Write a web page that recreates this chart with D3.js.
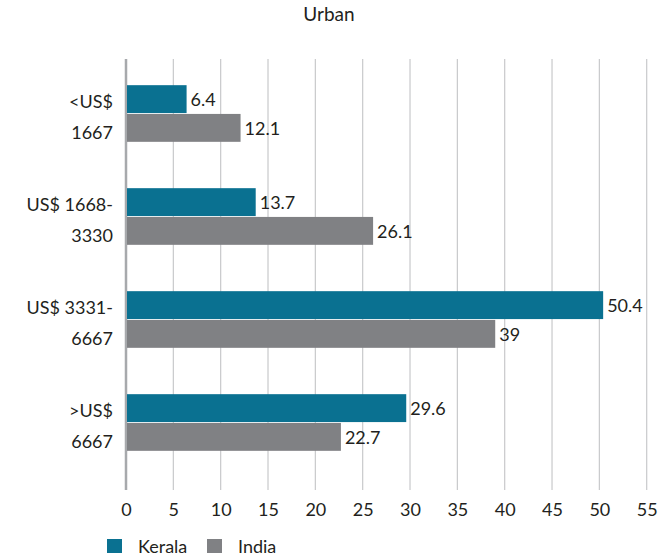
<!DOCTYPE html>
<html><head><meta charset="utf-8">
<script src="https://cdn.jsdelivr.net/npm/d3@7"></script>
<style>body{margin:0;background:#fff}svg{display:block}text{font-family:Lato,"Open Sans",sans-serif;fill:#231f20}</style>
</head><body>
<script>
const categories = [["<US$","1667"],["US$ 1668-","3330"],["US$ 3331-","6667"],[">US$","6667"]];
const seriesNames = ["Kerala","India"];
const kerala = [6.4, 13.7, 50.4, 29.6];
const india = [12.1, 26.1, 39, 22.7];
const valueLabels = [["6.4","12.1"],["13.7","26.1"],["50.4","39"],["29.6","22.7"]];
const ticks = [0,5,10,15,20,25,30,35,40,45,50,55];
const colors = ["#0a7191","#808184"];
const title = "Urban";

const W=659,H=558;
const FS=18;
const svg=d3.select("body").append("svg").attr("width",W).attr("height",H);
const x=d3.scaleLinear().domain([0,55]).range([126,646.7]);
const y=d3.scaleBand().domain(d3.range(categories.length)).range([62,474]).paddingInner(0.45).paddingOuter(0.225);
const sub=d3.scaleBand().domain([0,1]).range([0,y.bandwidth()]).paddingInner(0.03);

svg.append("text").attr("x",329).attr("y",21).attr("text-anchor","middle").attr("font-size",19).text(title);

// gridlines
svg.append("g").selectAll("line").data(ticks).join("line")
 .attr("x1",d=>x(d)).attr("x2",d=>x(d)).attr("y1",59).attr("y2",490)
 .attr("stroke",d=>d===0?"#a7a9ac":"#c8c9cb").attr("stroke-width",d=>d===0?2.5:1.2);

// axis
const ax=svg.append("g").attr("transform","translate(0,490)")
 .call(d3.axisBottom(x).tickValues(ticks).tickSize(0).tickPadding(13));
ax.select(".domain").remove();
ax.selectAll("text").attr("font-size",FS).style("font-family","Lato,'Open Sans',sans-serif").attr("fill","#231f20");

const data=categories.map((c,i)=>({i,vals:[kerala[i],india[i]]}));
const g=svg.append("g").selectAll("g").data(data).join("g").attr("transform",d=>`translate(0,${y(d.i)})`);
g.selectAll("rect").data(d=>d.vals.map((v,s)=>({v,s}))).join("rect")
 .attr("x",x(0)+1).attr("y",d=>sub(d.s)).attr("height",sub.bandwidth())
 .attr("width",d=>x(d.v)-x(0)-1).attr("fill",d=>colors[d.s]);
g.selectAll("text.val").data(d=>d.vals.map((v,s)=>({v,s,l:valueLabels[d.i][s]}))).join("text")
 .attr("class","val").attr("x",d=>x(d.v)+4).attr("y",d=>sub(d.s)+sub.bandwidth()/2+7)
 .attr("font-size",FS).text(d=>d.l);

// y labels
const yl=svg.append("g").selectAll("text").data(data).join("text")
 .attr("text-anchor","end").attr("font-size",FS)
 .attr("x",113).attr("y",d=>y(d.i)+y.bandwidth()/2);
yl.each(function(d){
  const t=d3.select(this);
  t.append("tspan").attr("x",113).attr("dy",-6).text(categories[d.i][0]);
  t.append("tspan").attr("x",113).attr("dy",31).text(categories[d.i][1]);
});

// legend
const lg=svg.append("g").attr("transform","translate(107,539)");
const lx=[0,100];
seriesNames.forEach((n,i)=>{
  lg.append("rect").attr("x",lx[i]).attr("y",0).attr("width",15).attr("height",14).attr("fill",colors[i]);
  lg.append("text").attr("x",lx[i]+31).attr("y",14).attr("font-size",FS).text(n);
});
</script>
</body></html>
